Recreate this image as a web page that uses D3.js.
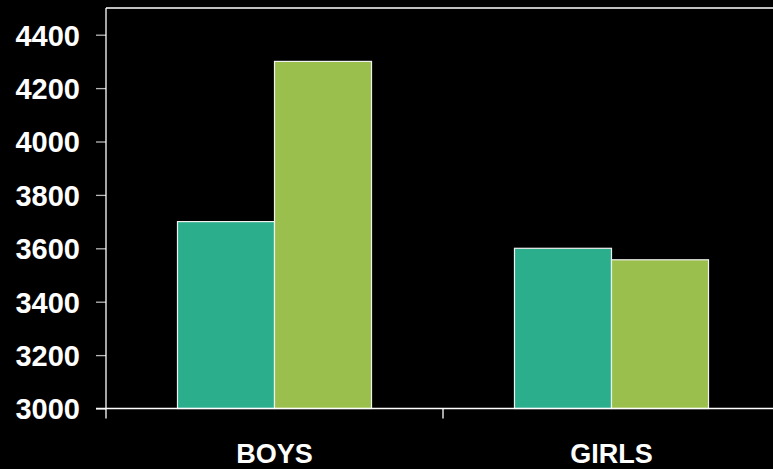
<!DOCTYPE html>
<html>
<head>
<meta charset="utf-8">
<script src="https://cdn.jsdelivr.net/npm/d3@7"></script>
<style>
  html, body { margin: 0; padding: 0; background: #000; }
  svg { display: block; }
</style>
</head>
<body>
<svg id="chart" width="773" height="469"></svg>
<script>
// Groups, series and axis ticks
const categories = ["BOYS", "GIRLS"];
const seriesNames = ["Series A", "Series B"];
const seriesA = [3700, 3600];
const seriesB = [4300, 3557];
const yTicks = [3000, 3200, 3400, 3600, 3800, 4000, 4200, 4400];

const colors = ["#2aae8c", "#9bbf4d"];
const W = 773, H = 469;
const margin = { left: 106, top: 8, right: -7, bottom: 60.5 };
const innerW = W - margin.left - margin.right;
const innerH = H - margin.top - margin.bottom;

const svg = d3.select("#chart");
svg.append("rect").attr("width", W).attr("height", H).attr("fill", "#000");

const g = svg.append("g").attr("transform", `translate(${margin.left},${margin.top})`);

const x = d3.scaleBand().domain(categories).range([0, innerW]).paddingInner(0).paddingOuter(0);
const x1 = d3.scaleBand().domain(seriesNames).range([0, x.bandwidth()]).paddingInner(0).paddingOuter(0.7368);
const y = d3.scaleLinear().domain([3000, 4500]).range([innerH, 0]);

const rows = categories.map((c, i) => ({ cat: c, vals: [seriesA[i], seriesB[i]] }));

// Bars
const groups = g.selectAll("g.grp").data(rows).join("g")
  .attr("class", "grp")
  .attr("transform", d => `translate(${x(d.cat)},0)`);
groups.selectAll("rect").data(d => d.vals.map((v, k) => ({ v, k }))).join("rect")
  .attr("x", d => x1(seriesNames[d.k]))
  .attr("width", x1.bandwidth())
  .attr("y", d => y(d.v))
  .attr("height", d => innerH - y(d.v))
  .attr("fill", d => colors[d.k])
  .attr("stroke", "#f0f0f0")
  .attr("stroke-width", 1.2);

// Frame at top
g.append("line").attr("x1", 0).attr("x2", innerW).attr("y1", 0).attr("y2", 0)
  .attr("stroke", "#fff").attr("stroke-width", 1.3);

// Y axis
const yAxis = g.append("g")
  .call(d3.axisLeft(y).tickValues(yTicks).tickFormat(d3.format("d"))
    .tickSize(10).tickSizeOuter(0).tickPadding(16));
yAxis.select(".domain").remove();
yAxis.selectAll(".tick line").attr("stroke", "#b8b8b8").attr("stroke-width", 1.3);
yAxis.selectAll(".tick text")
  .attr("fill", "#fff")
  .style("font-family", "'Liberation Sans', Arial, sans-serif")
  .style("font-weight", "bold")
  .style("font-size", "29px")
  .attr("dy", "0.36em");
g.append("line").attr("x1", 0).attr("x2", 0).attr("y1", 0).attr("y2", innerH + 10)
  .attr("stroke", "#fff").attr("stroke-width", 1.3);

// X axis
g.append("line").attr("x1", -10).attr("x2", innerW).attr("y1", innerH).attr("y2", innerH)
  .attr("stroke", "#fff").attr("stroke-width", 1.3);
const xAxis = g.append("g").attr("transform", `translate(0,${innerH})`)
  .call(d3.axisBottom(x).tickSize(0).tickPadding(35));
xAxis.select(".domain").remove();
xAxis.selectAll(".tick text")
  .attr("fill", "#fff")
  .style("font-family", "'Liberation Sans', Arial, sans-serif")
  .style("font-weight", "bold")
  .style("font-size", "27px");
// Separator ticks between groups
g.selectAll("line.sep").data(categories.slice(1)).join("line")
  .attr("class", "sep")
  .attr("x1", d => x(d)).attr("x2", d => x(d))
  .attr("y1", innerH).attr("y2", innerH + 10)
  .attr("stroke", "#fff").attr("stroke-width", 1.3);
</script>
</body>
</html>
